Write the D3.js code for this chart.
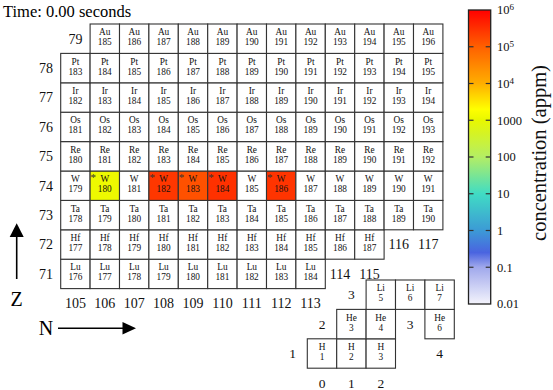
<!DOCTYPE html>
<html>
<head>
<meta charset="utf-8">
<script src="https://cdn.jsdelivr.net/npm/d3@7"></script>
<style>
  html, body { margin: 0; padding: 0; background: #fff; }
  svg { display: block; font-family: "Liberation Serif", "Times New Roman", serif; }
</style>
</head>
<body>
<div class="js-d3"></div>
<script>
const timeLabel = "Time: 0.00 seconds";

// heavy block: one row per element
const elements = ["Lu", "Hf", "Ta", "W", "Re", "Os", "Ir", "Pt", "Au"];
const protonNumbers = [71, 72, 73, 74, 75, 76, 77, 78, 79];
const firstMass = [176, 177, 178, 179, 180, 181, 182, 183, 185];
const lastMass = [184, 187, 190, 191, 192, 193, 194, 195, 196];

// light block
const lightElements = ["H", "He", "Li"];
const lightProtons = [1, 2, 3];
const lightMasses = [[1, 2, 3], [3, 4, 6], [5, 6, 7]];

// concentrations at t = 0 (appm)
const concIsotopes = ["W180", "W182", "W183", "W184", "W186"];
const concValues = [1200, 265000, 143000, 306000, 284000];

// colour bar
const cbTicks = [0.01, 0.1, 1, 10, 100, 1000, 1e4, 1e5, 1e6];
const cbTickLabels = ["0.01", "0.1", "1", "10", "100", "1000", "10^4", "10^5", "10^6"];
const cbTitle = "concentration (appm)";

const W = 553;
const H = 390;
const cell = 29.4;

const concMap = new Map(concIsotopes.map((k, i) => [k, concValues[i]]));

const color = d3
  .scaleLinear()
  .domain([-2, -1, -0.6, 0, 1, 2, 3, 3.3, 4, 5, 6])
  .range([
    "#f4f4fc", "#a0a8ec", "#4a64e0", "#3c9ad6", "#40dcc4", "#b4ee64",
    "#e8f700", "#ffff00", "#ffae00", "#ff6000", "#ff0000",
  ])
  .clamp(true);

const svg = d3
  .select(".js-d3")
  .append("svg")
  .attr("width", W)
  .attr("height", H);

svg
  .append("text")
  .attr("x", 3)
  .attr("y", 17)
  .attr("font-size", 16.5)
  .text(timeLabel);

// builds a block of cells plus its N / Z labels
const drawBlock = (cells, x, y, labelSize) => {
  const g = svg.append("g");

  const nodes = g
    .selectAll("g.cell")
    .data(cells)
    .enter()
    .append("g")
    .attr("class", "cell")
    .attr("transform", (d) => `translate(${x(d.n)}, ${y(d.z + 1)})`);

  nodes
    .append("rect")
    .attr("width", cell)
    .attr("height", cell)
    .attr("fill", (d) => (d.conc ? color(Math.log10(d.conc)) : "#fff"))
    .attr("stroke", "#333")
    .attr("stroke-width", 1.1);

  nodes
    .filter((d) => d.conc)
    .append("text")
    .attr("x", 0.5)
    .attr("y", 10)
    .attr("font-size", 11)
    .attr("fill", "#333")
    .text("*");

  nodes
    .append("text")
    .attr("x", cell / 2)
    .attr("y", 11.3)
    .attr("text-anchor", "middle")
    .attr("font-size", 9.3)
    .attr("fill", "#111")
    .text((d) => d.sym);

  nodes
    .append("text")
    .attr("x", cell / 2)
    .attr("y", 21.2)
    .attr("text-anchor", "middle")
    .attr("font-size", 9.3)
    .attr("fill", "#111")
    .text((d) => d.a);

  // N label under the lowest cell of each column, Z label left of each row
  const nLabels = d3.rollups(cells, (v) => d3.min(v, (d) => d.z), (d) => d.n);
  const zLabels = d3.rollups(cells, (v) => d3.min(v, (d) => d.n), (d) => d.z);

  const labels = nLabels
    .map(([n, z]) => ({ n, z: z - 1, t: n }))
    .concat(zLabels.map(([z, n]) => ({ n: n - 1, z, t: z })));

  g.selectAll("text.lab")
    .data(labels)
    .enter()
    .append("text")
    .attr("class", "lab")
    .attr("x", (d) => x(d.n) + cell / 2)
    .attr("y", (d) => y(d.z + 0.5))
    .attr("dy", "0.35em")
    .attr("text-anchor", "middle")
    .attr("font-size", labelSize)
    .attr("fill", "#111")
    .text((d) => d.t);
};

const heavyCells = [];
elements.forEach((sym, i) => {
  const z = protonNumbers[i];
  d3.range(firstMass[i], lastMass[i] + 1).forEach((a) => {
    heavyCells.push({ sym, z, a, n: a - z, conc: concMap.get(sym + a) });
  });
});

const lightCells = [];
lightElements.forEach((sym, i) => {
  const z = lightProtons[i];
  lightMasses[i].forEach((a) => {
    lightCells.push({ sym, z, a, n: a - z, conc: concMap.get(sym + a) });
  });
});

const xHeavy = d3.scaleLinear().domain([105, 118]).range([60.7, 60.7 + 13 * cell]);
const yHeavy = d3.scaleLinear().domain([80, 71]).range([24, 24 + 9 * cell]);
drawBlock(heavyCells, xHeavy, yHeavy, 14);

const xLight = d3.scaleLinear().domain([0, 5]).range([307.3, 307.3 + 5 * cell]);
const yLight = d3.scaleLinear().domain([4, 1]).range([280, 280 + 3 * cell]);
drawBlock(lightCells, xLight, yLight, 13.5);

// axis arrows
const arrows = svg.append("g").attr("fill", "#000").attr("stroke", "#000");

arrows
  .append("line")
  .attr("x1", 16.7)
  .attr("x2", 16.7)
  .attr("y1", 279)
  .attr("y2", 236)
  .attr("stroke-width", 1.6);
arrows
  .append("path")
  .attr("stroke", "none")
  .attr("d", "M16.7,223.3L23.7,237L9.7,237Z");
arrows
  .append("text")
  .attr("stroke", "none")
  .attr("x", 16.5)
  .attr("y", 305.5)
  .attr("text-anchor", "middle")
  .attr("font-size", 20)
  .text("Z");

arrows
  .append("line")
  .attr("x1", 58)
  .attr("x2", 123)
  .attr("y1", 328.3)
  .attr("y2", 328.3)
  .attr("stroke-width", 1.6);
arrows
  .append("path")
  .attr("stroke", "none")
  .attr("d", "M136,328.3L122.5,322L122.5,334.6Z");
arrows
  .append("text")
  .attr("stroke", "none")
  .attr("x", 46)
  .attr("y", 335)
  .attr("text-anchor", "middle")
  .attr("font-size", 20)
  .text("N");

// colour bar
const cbX = 468.5;
const cbW = 22.2;
const yCb = d3.scaleLog().domain([0.01, 1e6]).range([304, 10]);

const grad = svg
  .append("defs")
  .append("linearGradient")
  .attr("id", "cbgrad")
  .attr("x1", 0)
  .attr("y1", 1)
  .attr("x2", 0)
  .attr("y2", 0);

grad
  .selectAll("stop")
  .data(d3.range(-2, 6.001, 0.1))
  .enter()
  .append("stop")
  .attr("offset", (d) => (d + 2) / 8)
  .attr("stop-color", (d) => color(d));

svg
  .append("rect")
  .attr("x", cbX)
  .attr("y", yCb(1e6))
  .attr("width", cbW)
  .attr("height", yCb(0.01) - yCb(1e6))
  .attr("fill", "url(#cbgrad)")
  .attr("stroke", "#222")
  .attr("stroke-width", 1.3);

const inner = cbTicks.filter((d) => d > 0.01 && d < 1e6);
const tickG = svg.append("g").attr("stroke", "#333").attr("stroke-width", 1.2);
tickG
  .selectAll("line.l")
  .data(inner)
  .enter()
  .append("line")
  .attr("x1", cbX)
  .attr("x2", cbX + 5)
  .attr("y1", (d) => yCb(d))
  .attr("y2", (d) => yCb(d));
tickG
  .selectAll("line.r")
  .data(inner)
  .enter()
  .append("line")
  .attr("x1", cbX + cbW - 5)
  .attr("x2", cbX + cbW)
  .attr("y1", (d) => yCb(d))
  .attr("y2", (d) => yCb(d));

const tickText = svg
  .selectAll("text.cbt")
  .data(cbTicks)
  .enter()
  .append("text")
  .attr("class", "cbt")
  .attr("x", 497)
  .attr("y", (d) => yCb(d))
  .attr("dy", "0.35em")
  .attr("font-size", 12.5)
  .attr("fill", "#111");

tickText.each(function (d, i) {
  const parts = cbTickLabels[i].split("^");
  const t = d3.select(this);
  t.append("tspan").text(parts[0]);
  if (parts[1]) {
    t.append("tspan").attr("dy", "-0.45em").attr("font-size", 9).text(parts[1]);
  }
});

svg
  .append("text")
  .attr("transform", `translate(546, ${yCb(Math.sqrt(0.01 * 1e6)) - 4}) rotate(-90)`)
  .attr("text-anchor", "middle")
  .attr("font-size", 20.5)
  .attr("fill", "#111")
  .text(cbTitle);
</script>
</body>
</html>
